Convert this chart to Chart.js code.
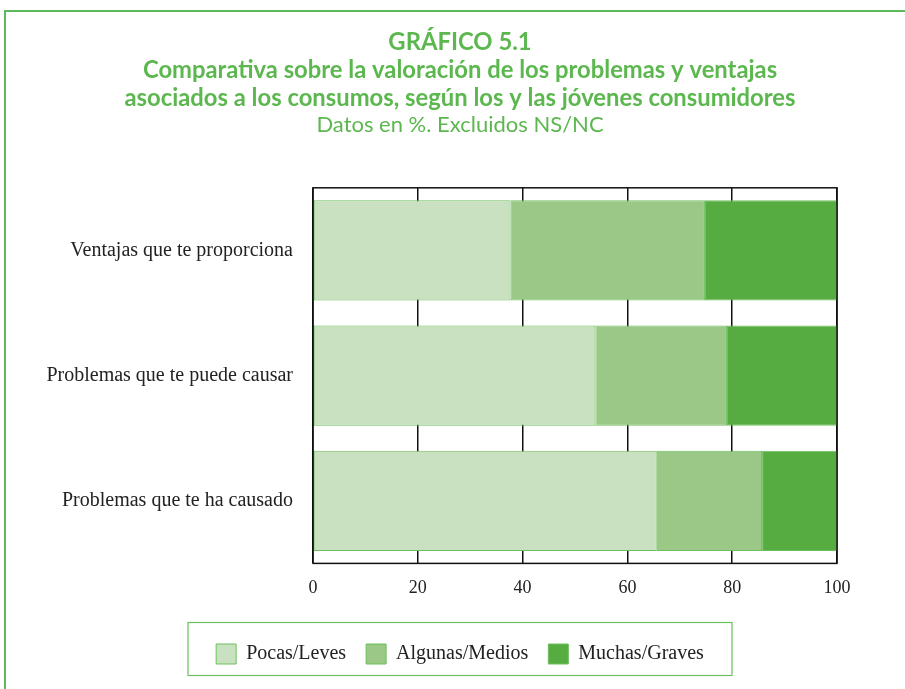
<!DOCTYPE html>
<html>
<head>
<meta charset="utf-8">
<script src="https://cdn.jsdelivr.net/npm/chart.js@4/dist/chart.umd.min.js"></script>
<style>
  html, body { margin: 0; padding: 0; background: #fff; }
  #wrap { width: 905px; height: 689px; position: relative; }
</style>
</head>
<body>
<div id="wrap"><canvas id="chart"></canvas></div>
<script>
// categories (top to bottom)
const categories = ['Ventajas que te proporciona', 'Problemas que te puede causar', 'Problemas que te ha causado'];
// series values, %
const pocasLeves = [37.7, 53.9, 65.6];
const algunasMedios = [37.1, 25.1, 20.1];
const muchasGraves = [25.2, 21.0, 14.3];
const seriesNames = ['Pocas/Leves', 'Algunas/Medios', 'Muchas/Graves'];
const xTicks = [0, 20, 40, 60, 80, 100];

const colors = ['#c9e1c0', '#9cc887', '#57ac41'];
const green = '#5cb74f';

// green frame, plot box, legend box; recentre title/subtitle/legend on x = 460
const framePlugin = {
    id: 'frame',
    afterLayout(chart) {
        chart.boxes.forEach(b => {
            if (b !== chart.legend && b.position !== 'top') return;
            const shift = 460 - (b.left + b.right) / 2;
            b.left += shift;
            b.right += shift;
        });
    },
    beforeDraw(chart) {
        const c = chart.ctx;
        c.save();
        c.strokeStyle = '#5cb85c';
        c.lineWidth = 2;
        c.strokeRect(5, 11, 920, 700);
        c.restore();
    },
    afterDraw(chart) {
        const c = chart.ctx;
        const a = chart.chartArea;
        c.save();
        c.strokeStyle = '#111';
        c.lineWidth = 1.5;
        c.strokeRect(a.left, a.top, a.right - a.left, a.bottom - a.top);
        const lg = chart.legend;
        const mid = (lg.top + lg.bottom) / 2;
        c.strokeStyle = '#6cbf5c';
        c.lineWidth = 1.2;
        c.strokeRect(460 - 272, mid - 26.5, 544, 53);
        c.restore();
    }
};

new Chart(document.getElementById('chart'), {
    type: 'bar',
    data: {
        labels: categories,
        datasets: [
            { label: seriesNames[0], data: pocasLeves, backgroundColor: colors[0] },
            { label: seriesNames[1], data: algunasMedios, backgroundColor: colors[1] },
            { label: seriesNames[2], data: muchasGraves, backgroundColor: colors[2] }
        ].map(d => Object.assign(d, {
            borderColor: '#6cbf5c',
            borderWidth: 1,
            borderSkipped: false,
            categoryPercentage: 1,
            barPercentage: 0.8
        }))
    },
    options: {
        indexAxis: 'y',
        responsive: true,
        maintainAspectRatio: false,
        animation: false,
        layout: { padding: { left: 30, right: 68, top: 28, bottom: 15 } },
        scales: {
            x: {
                stacked: true,
                min: 0,
                max: 100,
                afterBuildTicks: axis => { axis.ticks = xTicks.map(v => ({ value: v })); },
                afterFit: axis => { axis.height += 11; },
                ticks: {
                    color: '#222',
                    font: { family: 'Liberation Serif', size: 18 },
                    padding: 14
                },
                grid: { color: '#111', lineWidth: 1.5, drawTicks: false },
                border: { display: false }
            },
            y: {
                stacked: true,
                afterFit: axis => { axis.width = 283; },
                ticks: {
                    color: '#222',
                    font: { family: 'Liberation Serif', size: 20 },
                    padding: 20
                },
                grid: { display: false, drawTicks: false },
                border: { display: false }
            }
        },
        plugins: {
            title: {
                display: true,
                text: [
                    'GRÁFICO 5.1',
                    'Comparativa sobre la valoración de los problemas y ventajas',
                    'asociados a los consumos, según los y las jóvenes consumidores'
                ],
                color: green,
                font: { family: 'Lato', size: 23.8, weight: 'bold', lineHeight: 1.185 },
                padding: { top: 0, bottom: 0 }
            },
            subtitle: {
                display: true,
                text: 'Datos en %. Excluidos NS/NC',
                color: green,
                font: { family: 'Lato', size: 22, weight: 'normal', lineHeight: 1.1 },
                padding: { top: 0, bottom: 51 }
            },
            legend: {
                position: 'bottom',
                labels: {
                    boxWidth: 20,
                    boxHeight: 20,
                    padding: 20,
                    color: '#222',
                    font: { family: 'Liberation Serif', size: 20 }
                }
            },
            tooltip: { enabled: false }
        }
    },
    plugins: [framePlugin]
});
</script>
</body>
</html>
